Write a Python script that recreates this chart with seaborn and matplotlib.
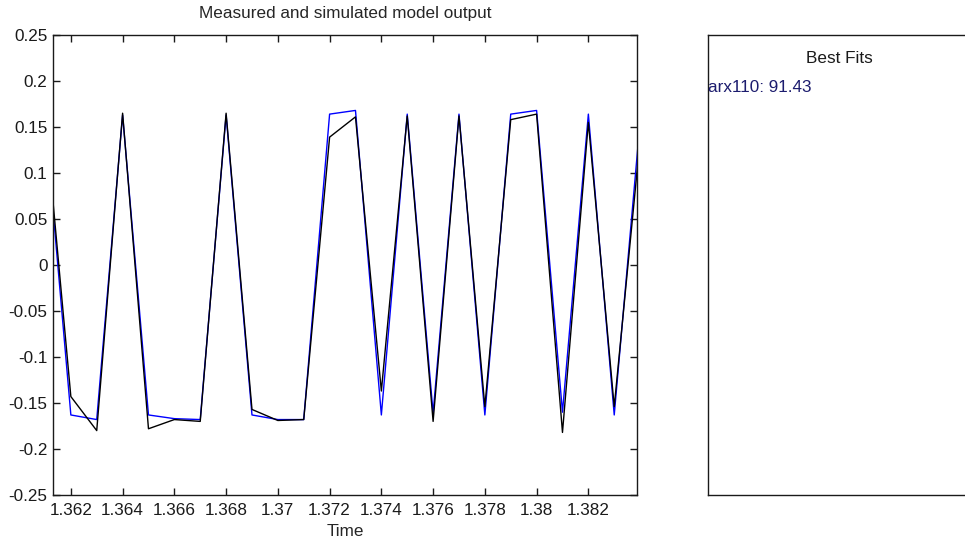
import numpy as np
import pandas as pd
import seaborn as sns
import matplotlib.pyplot as plt
from matplotlib.ticker import FuncFormatter, MultipleLocator

# Data (sample time 1 ms)
time = [1.361, 1.362, 1.363, 1.364, 1.365, 1.366, 1.367, 1.368,
        1.369, 1.370, 1.371, 1.372, 1.373, 1.374, 1.375, 1.376,
        1.377, 1.378, 1.379, 1.380, 1.381, 1.382, 1.383, 1.384]
measured = [0.164, -0.143, -0.180, 0.165, -0.178, -0.168, -0.170, 0.165,
            -0.157, -0.169, -0.168, 0.139, 0.161, -0.137, 0.162, -0.170,
            0.162, -0.154, 0.158, 0.164, -0.182, 0.155, -0.154, 0.136]
simulated = [0.160, -0.163, -0.168, 0.163, -0.163, -0.167, -0.168, 0.163,
             -0.163, -0.168, -0.168, 0.164, 0.168, -0.163, 0.164, -0.161,
             0.164, -0.163, 0.164, 0.168, -0.160, 0.164, -0.163, 0.156]
fit_name = "arx110"
fit_value = 91.43

df = pd.DataFrame({"Time": time, "measured": measured, "simulated": simulated})

FS = 12.3

sns.set_style("ticks")
plt.rcParams['font.family'] = ['Liberation Sans', 'DejaVu Sans']
plt.rcParams['font.size'] = FS

fig = plt.figure(figsize=(9.65, 5.43), dpi=100)
fig.patch.set_facecolor("white")

# main axes
ax = fig.add_axes([53/965, 48/543, 584/965, 460/543])
sns.lineplot(x="Time", y="simulated", data=df, color="#0000ff", linewidth=1.0, ax=ax)
sns.lineplot(x="Time", y="measured", data=df, color="black", linewidth=1.0, ax=ax)
ax.set_xlim(1.36131, 1.38388)
ax.set_ylim(-0.25, 0.25)
ax.xaxis.set_major_locator(MultipleLocator(0.002))
ax.yaxis.set_major_locator(MultipleLocator(0.05))
fmt = FuncFormatter(lambda v, p: "%g" % round(v, 6))
ax.xaxis.set_major_formatter(fmt)
ax.yaxis.set_major_formatter(fmt)
ax.tick_params(direction="in", top=True, right=True, length=5, width=1,
               colors="#1a1a1a", labelsize=FS)
ax.tick_params(axis="x", pad=6)
ax.tick_params(axis="y", pad=4)
for s in ax.spines.values():
    s.set_color("#1a1a1a")
    s.set_linewidth(1.0)
ax.set_title("Measured and simulated model output", fontsize=FS, pad=12)
ax.set_xlabel("Time", fontsize=FS, labelpad=4)
ax.set_ylabel("")

# right panel with best fits
ax2 = fig.add_axes([708/965, 48/543, 262/965, 460/543])
ax2.set_xticks([])
ax2.set_yticks([])
for s in ax2.spines.values():
    s.set_color("#1a1a1a")
    s.set_linewidth(1.0)
ax2.text(0.5, 0.95, "Best Fits", transform=ax2.transAxes, ha="center",
         va="center", fontsize=FS, color="#1a1a1a")
ax2.text(0.0, 0.885, "%s: %.2f" % (fit_name, fit_value), transform=ax2.transAxes,
         ha="left", va="center", fontsize=FS, color="#1c1c6e")

fig.savefig("out.png", dpi=100)
